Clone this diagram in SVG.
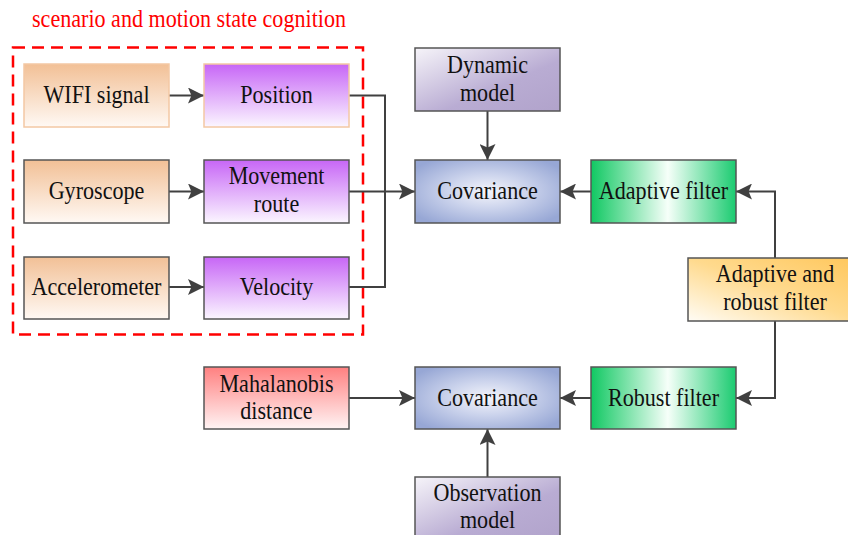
<svg xmlns="http://www.w3.org/2000/svg" width="848" height="535" viewBox="0 0 848 535">
<defs>
<linearGradient id="gOrange" x1="0" y1="0" x2="0" y2="1"><stop offset="0" stop-color="#F2C096"/><stop offset="1" stop-color="#FFF9F4"/></linearGradient>
<linearGradient id="gPurple" x1="0" y1="0" x2="0" y2="1"><stop offset="0" stop-color="#C766F6"/><stop offset="1" stop-color="#FBF6FF"/></linearGradient>
<linearGradient id="gLav" x1="0" y1="0" x2="1" y2="1"><stop offset="0" stop-color="#F6F4F9"/><stop offset="0.6" stop-color="#B9ACD3"/><stop offset="1" stop-color="#B1A3CB"/></linearGradient>
<radialGradient id="gCov" cx="0.5" cy="0.5" r="0.62"><stop offset="0" stop-color="#F4F5FB"/><stop offset="0.45" stop-color="#CBD3EC"/><stop offset="1" stop-color="#97A7D5"/></radialGradient>
<linearGradient id="gGreen" x1="0" y1="0" x2="1" y2="0"><stop offset="0" stop-color="#10C862"/><stop offset="0.53" stop-color="#F6FFF9"/><stop offset="1" stop-color="#1BCB70"/></linearGradient>
<linearGradient id="gAR" x1="0" y1="1" x2="1" y2="0"><stop offset="0" stop-color="#FFFCF5"/><stop offset="0.5" stop-color="#FFDA8E"/><stop offset="1" stop-color="#FFC65A"/></linearGradient>
<linearGradient id="gRed" x1="0" y1="0" x2="0" y2="1"><stop offset="0" stop-color="#FF8080"/><stop offset="1" stop-color="#FFF4F4"/></linearGradient>
<marker id="arr" markerUnits="userSpaceOnUse" markerWidth="16" markerHeight="16" refX="14" refY="7" orient="auto" viewBox="0 0 14 14">
<path d="M0,0 L14,7 L0,14 L3,7 z" fill="#404040"/>
</marker>
<style>
.box{stroke:#555555;stroke-width:1.5}
.lb{font-size:26px;fill:#111111;text-anchor:middle}
.con{fill:none;stroke:#404040;stroke-width:2}
.ar{marker-end:url(#arr)}
</style>
</defs>
<g font-family="Liberation Serif, Times New Roman, DejaVu Serif, serif">
<text transform="translate(32,27) scale(0.85,1)" font-size="26" fill="#FF0000">scenario and motion state cognition</text>
<rect x="13" y="47.5" width="350" height="287" fill="none" stroke="#FF0000" stroke-width="2.5" stroke-dasharray="12 7"/>
<g id="connectors">
<path class="con ar" d="M169,95.5 H204"/>
<path class="con ar" d="M169,191.5 H204"/>
<path class="con ar" d="M169,287 H204"/>
<path class="con" d="M349,95.5 H385 V287 H349"/>
<path class="con ar" d="M349,191.5 H415"/>
<path class="con ar" d="M487.5,111 V160"/>
<path class="con ar" d="M591,191.5 H560"/>
<path class="con ar" d="M775,258 V191.5 H736"/>
<path class="con ar" d="M775,321 V398 H736"/>
<path class="con ar" d="M591,398 H560"/>
<path class="con ar" d="M349,398 H415"/>
<path class="con ar" d="M487.5,477 V429"/>
</g>
<g id="wifi"><rect x="24" y="64" width="145" height="63" fill="url(#gOrange)" stroke="#F3C8A4" stroke-width="1.5"/><text class="lb" transform="translate(96.5,103) scale(0.85,1)">WIFI signal</text></g>
<g id="position"><rect x="204" y="64" width="145" height="63" fill="url(#gPurple)" stroke="#F3C8A4" stroke-width="1.5"/><text class="lb" transform="translate(276.5,103) scale(0.85,1)">Position</text></g>
<g id="gyroscope"><rect class="box" x="24" y="160" width="145" height="63" fill="url(#gOrange)"/><text class="lb" transform="translate(96.5,199) scale(0.85,1)">Gyroscope</text></g>
<g id="movement"><rect class="box" x="204" y="160" width="145" height="63" fill="url(#gPurple)"/><text class="lb" transform="translate(276.5,184) scale(0.85,1)">Movement</text><text class="lb" transform="translate(276.5,212) scale(0.85,1)">route</text></g>
<g id="accelerometer"><rect class="box" x="24" y="257" width="145" height="62" fill="url(#gOrange)"/><text class="lb" transform="translate(96.5,295) scale(0.85,1)">Accelerometer</text></g>
<g id="velocity"><rect class="box" x="204" y="257" width="145" height="62" fill="url(#gPurple)"/><text class="lb" transform="translate(276.5,295) scale(0.85,1)">Velocity</text></g>
<g id="dynamic"><rect class="box" x="415" y="48" width="145" height="63" fill="url(#gLav)"/><text class="lb" transform="translate(487.5,73) scale(0.85,1)">Dynamic</text><text class="lb" transform="translate(487.5,101) scale(0.85,1)">model</text></g>
<g id="covariance1"><rect class="box" x="415" y="160" width="145" height="63" fill="url(#gCov)"/><text class="lb" transform="translate(487.5,199) scale(0.85,1)">Covariance</text></g>
<g id="adaptive"><rect class="box" x="591" y="160" width="145" height="63" fill="url(#gGreen)"/><text class="lb" transform="translate(663.5,199) scale(0.85,1)">Adaptive filter</text></g>
<g id="adaptiverobust"><rect class="box" x="688" y="258" width="174" height="63" fill="url(#gAR)"/><text class="lb" transform="translate(775,282) scale(0.85,1)">Adaptive and</text><text class="lb" transform="translate(775,309.5) scale(0.85,1)">robust filter</text></g>
<g id="mahalanobis"><rect class="box" x="204" y="367" width="145" height="62" fill="url(#gRed)"/><text class="lb" transform="translate(276.5,391.5) scale(0.85,1)">Mahalanobis</text><text class="lb" transform="translate(276.5,418.5) scale(0.85,1)">distance</text></g>
<g id="covariance2"><rect class="box" x="415" y="367" width="145" height="62" fill="url(#gCov)"/><text class="lb" transform="translate(487.5,405.5) scale(0.85,1)">Covariance</text></g>
<g id="robust"><rect class="box" x="591" y="367" width="145" height="62" fill="url(#gGreen)"/><text class="lb" transform="translate(663.5,405.5) scale(0.85,1)">Robust filter</text></g>
<g id="observation"><rect class="box" x="415" y="477" width="145" height="63" fill="url(#gLav)"/><text class="lb" transform="translate(487.5,500.5) scale(0.85,1)">Observation</text><text class="lb" transform="translate(487.5,528) scale(0.85,1)">model</text></g>
</g>
</svg>
